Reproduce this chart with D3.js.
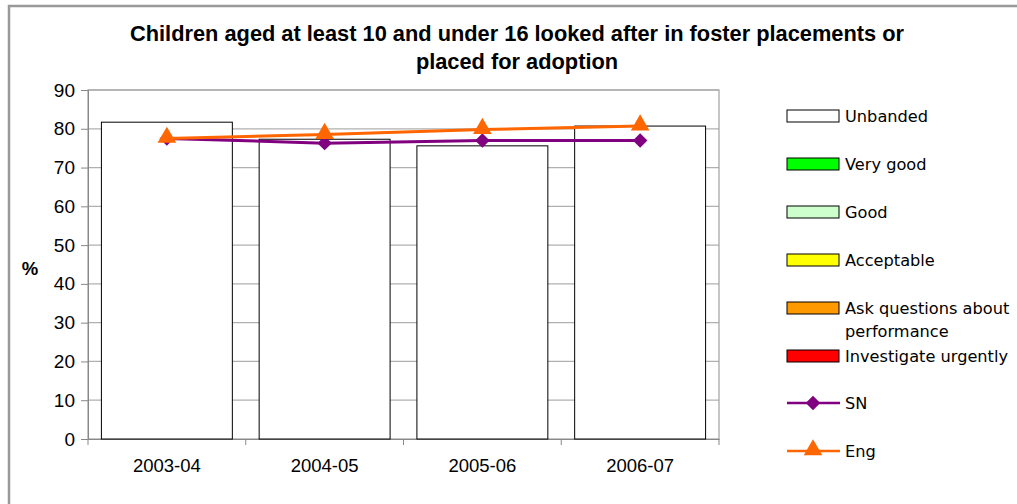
<!DOCTYPE html>
<html><head><meta charset="utf-8">
<script src="https://cdn.jsdelivr.net/npm/d3@7"></script>
<style>body{margin:0;background:#fff}svg{display:block}</style>
</head><body>
<svg id="c" width="1017" height="504"></svg>
<script>
const categories = ["2003-04","2004-05","2005-06","2006-07"];
const unbanded = [81.7, 77.3, 75.6, 80.7];
const sn = [77.5, 76.3, 77.0, 77.0];
const eng = [77.5, 78.5, 79.8, 80.7];
const yTicks = [0,10,20,30,40,50,60,70,80,90];
const legendBands = [
  {name:"Unbanded", color:"#ffffff"},
  {name:"Very good", color:"#00ff00"},
  {name:"Good", color:"#ccffcc"},
  {name:"Acceptable", color:"#ffff00"},
  {name:"Ask questions about|performance", color:"#ff9900"},
  {name:"Investigate urgently", color:"#ff0000"}
];
const titleLines = ["Children aged at least 10 and under 16 looked after in foster placements or","placed for adoption"];

(function(){
const svg = d3.select("#c");
const pL=88, pR=719, pT=90, pB=439;
const afont = "Arial, Liberation Sans, sans-serif";
const x = d3.scaleBand().domain(categories).range([pL,pR]).paddingInner(0.17).paddingOuter(0.085);
const xc = d3.scaleBand().domain(categories).range([pL,pR]);
const y = d3.scaleLinear().domain([0,90]).range([pB,pT]);

svg.append("path").attr("d",`M9,1017 V6 H1017`).attr("fill","none").attr("stroke","#999").attr("stroke-width",2.5);

svg.append("g").selectAll("text").data(titleLines).join("text")
  .attr("x",517).attr("y",(d,i)=>41+i*28).attr("text-anchor","middle")
  .attr("font-family",afont).attr("font-weight","bold").attr("font-size",21.8)
  .text(d=>d);

svg.append("g").selectAll("line").data(yTicks.filter(t=>t>0)).join("line")
  .attr("x1",pL).attr("x2",pR).attr("y1",d=>y(d)).attr("y2",d=>y(d))
  .attr("stroke","#b0b0b0").attr("stroke-width",1.2);
svg.append("rect").attr("x",pL).attr("y",pT).attr("width",pR-pL).attr("height",pB-pT)
  .attr("fill","none").attr("stroke","#a0a0a0").attr("stroke-width",1.2);

const ya = svg.append("g").attr("transform",`translate(${pL},0)`)
  .call(d3.axisLeft(y).tickValues(yTicks).tickSize(7).tickPadding(6));
ya.select(".domain").attr("stroke","#888");
ya.selectAll(".tick line").attr("stroke","#888");
ya.selectAll("text").attr("font-family",afont).attr("font-size",19).attr("fill","#000");

const xa = svg.append("g").attr("transform",`translate(0,${pB})`)
  .call(d3.axisBottom(xc).tickSize(0).tickPadding(20));
xa.select(".domain").attr("stroke","#888");
xa.selectAll("text").attr("font-family",afont).attr("font-size",18.5).attr("fill","#000");
svg.append("g").selectAll("line").data(categories.concat(["end"])).join("line")
  .attr("x1",(d,i)=>pL+i*xc.step()).attr("x2",(d,i)=>pL+i*xc.step())
  .attr("y1",pB).attr("y2",pB+6).attr("stroke","#888");

svg.append("text").attr("x",30).attr("y",275).attr("text-anchor","middle")
  .attr("font-family",afont).attr("font-weight","bold").attr("font-size",18.5).text("%");

svg.append("g").selectAll("rect").data(unbanded).join("rect")
  .attr("x",(d,i)=>x(categories[i])).attr("y",d=>y(d)).attr("width",x.bandwidth()).attr("height",d=>y(0)-y(d))
  .attr("fill","#fff").attr("stroke","#000").attr("stroke-width",1);

const cx = (d,i)=>xc(categories[i])+xc.bandwidth()/2;
const tri = d3.symbol().type(d3.symbolTriangle).size(150);
const dia = d3.symbol().type(d3.symbolSquare).size(105);

svg.append("path").datum(sn).attr("d",d3.line().x(cx).y(d=>y(d)))
  .attr("fill","none").attr("stroke","#800080").attr("stroke-width",3);
svg.append("g").selectAll("path").data(sn).join("path")
  .attr("transform",(d,i)=>`translate(${cx(d,i)},${y(d)}) rotate(45)`).attr("d",dia).attr("fill","#800080");
svg.append("path").datum(eng).attr("d",d3.line().x(cx).y(d=>y(d)))
  .attr("fill","none").attr("stroke","#ff6600").attr("stroke-width",3);
svg.append("g").selectAll("path").data(eng).join("path")
  .attr("transform",(d,i)=>`translate(${cx(d,i)},${y(d)-1})`).attr("d",tri).attr("fill","#ff6600");

const lg = svg.append("g");
const lfont = "DejaVu Sans, Verdana, sans-serif";
const lsize = 16.2;
legendBands.forEach((b,i)=>{
  const yy = 116 + i*48;
  lg.append("rect").attr("x",787).attr("y",yy-6).attr("width",52).attr("height",12)
    .attr("fill",b.color).attr("stroke","#000").attr("stroke-width",1);
  b.name.split("|").forEach((t,j)=>{
    lg.append("text").attr("x",845).attr("y",yy+6+j*23).attr("font-family",lfont).attr("font-size",lsize).attr("fill","#000").text(t);
  });
});
const lines = [{name:"SN",color:"#800080",sym:dia,dy:0,rot:45},{name:"Eng",color:"#ff6600",sym:tri,dy:-1,rot:0}];
lines.forEach((l,k)=>{
  const yy = 403 + k*48;
  lg.append("line").attr("x1",787).attr("x2",840).attr("y1",yy).attr("y2",yy).attr("stroke",l.color).attr("stroke-width",2.5);
  lg.append("path").attr("transform",`translate(813,${yy+l.dy}) rotate(${l.rot})`).attr("d",l.sym).attr("fill",l.color);
  lg.append("text").attr("x",845).attr("y",yy+6).attr("font-family",lfont).attr("font-size",lsize).attr("fill","#000").text(l.name);
});
})();
</script>
</body></html>
